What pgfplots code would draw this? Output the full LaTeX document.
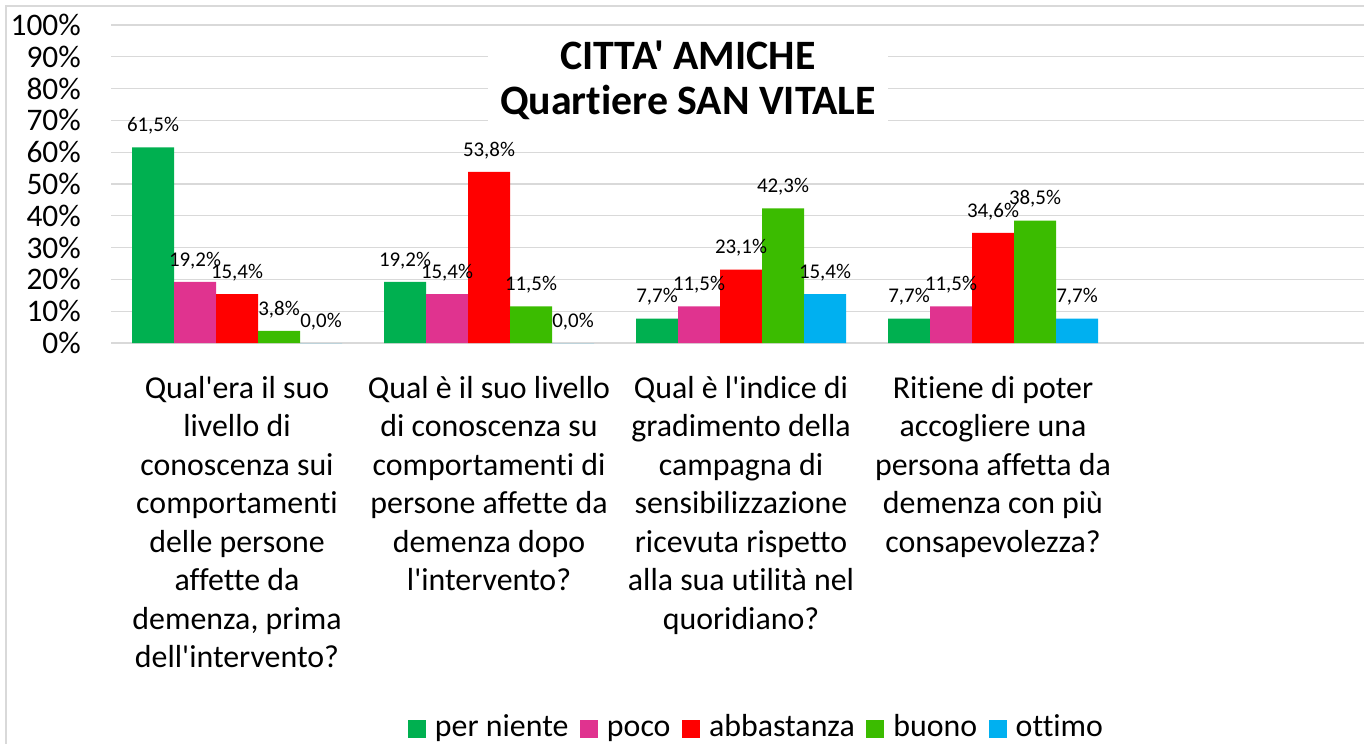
\documentclass[border=0pt]{standalone}
\usepackage{pgfplots}
\pgfplotsset{compat=1.18}
\usepackage{fontspec}
\setmainfont{Carlito}[Ligatures={TeXOff,NoCommon}]
\definecolor{cA}{HTML}{00B050}
\definecolor{cB}{HTML}{E0338F}
\definecolor{cC}{HTML}{FF0000}
\definecolor{cD}{HTML}{3BBC00}
\definecolor{cE}{HTML}{00B0F0}
\definecolor{gridc}{HTML}{D9D9D9}
\begin{document}
\begin{tikzpicture}
\useasboundingbox (0bp,0bp) rectangle (1364bp,-744bp);
\draw[gridc, line width=1.3bp] (6bp,-744bp) -- (6bp,-6bp) -- (1364bp,-6bp);
\begin{axis}[
  at={(111bp,-343bp)}, anchor=south west,
  scale only axis, width=1260bp, height=318bp,
  xmin=-0.5, xmax=4.5, ymin=0, ymax=100,
  ybar=0pt, bar width=42bp,
  axis line style={draw=none},
  major tick length=0pt,
  ymajorgrids, grid style={gridc, line width=1.3bp},
  ytick={0,10,...,100},
  /pgf/number format/assume math mode=true,
  yticklabel={\pgfmathprintnumber{\tick}\%},
  yticklabel style={font=\fontsize{31.5}{36}\selectfont, anchor=east, inner sep=0pt, xshift=-30bp},
  xtick={0,1,2,3},
  xticklabels={
    {Qual'era il suo\\livello di\\conoscenza sui\\comportamenti\\delle persone\\affette da\\demenza, prima\\dell'intervento?},
    {Qual è il suo livello\\di conoscenza su\\comportamenti di\\persone affette da\\demenza dopo\\l'intervento?},
    {Qual è l'indice di\\gradimento della\\campagna di\\sensibilizzazione\\ricevuta rispetto\\alla sua utilità nel\\quoridiano?},
    {Ritiene di poter\\accogliere una\\persona affetta da\\demenza con più\\consapevolezza?}},
  xticklabel style={font=\fontsize{32}{38.6}\selectfont, align=center, anchor=north, inner sep=0pt, yshift=-33bp},
  nodes near coords={\pgfmathprintnumber[fixed,fixed zerofill,precision=1,use comma]{\pgfplotspointmeta}\%},
  every node near coord/.append style={font=\fontsize{21}{25}\selectfont, text=black, inner sep=0pt, yshift=13bp},
  legend image code/.code={\fill[#1] (0bp,-9bp) rectangle (18bp,9bp);},
  legend columns=-1,
  legend style={at={(0.5115,-1.213)}, anchor=center, draw=none, fill=none,
    font=\fontsize{32}{38}\selectfont,
    nodes={inner sep=0pt, text height=23bp, text depth=7bp},
    /tikz/every odd column/.append style={column sep=9bp},
    /tikz/every even column/.append style={column sep=11.5bp}},
]
\addplot[fill=cA, draw=none] coordinates {(0,61.5) (1,19.2) (2,7.7) (3,7.7)};
\addplot[fill=cB, draw=none] coordinates {(0,19.2) (1,15.4) (2,11.5) (3,11.5)};
\addplot[fill=cC, draw=none] coordinates {(0,15.4) (1,53.8) (2,23.1) (3,34.6)};
\addplot[fill=cD, draw=none] coordinates {(0,3.8) (1,11.5) (2,42.3) (3,38.5)};
\addplot[fill=cE, draw=none] coordinates {(0,0) (1,0) (2,15.4) (3,7.7)};
\legend{per niente, poco, abbastanza, buono, ottimo}
\end{axis}
\node[fill=white, minimum width=400bp, minimum height=106bp, align=center, inner sep=0pt,
  font=\bfseries\fontsize{42}{45}\selectfont] at (688bp,-80bp) {CITTA' AMICHE\\Quartiere SAN VITALE};
\end{tikzpicture}
\end{document}
